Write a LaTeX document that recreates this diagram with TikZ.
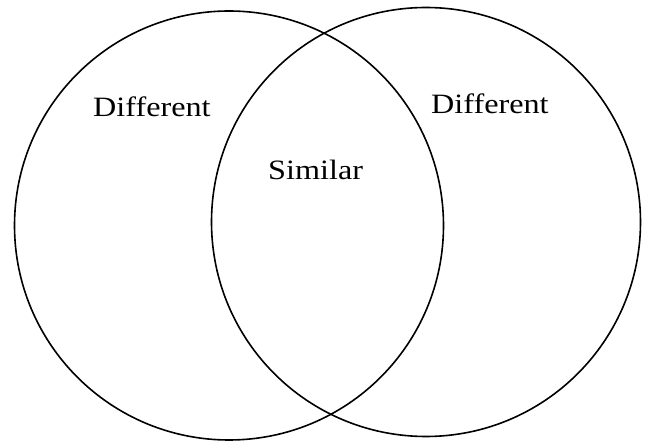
\documentclass[tikz,border=0pt]{standalone}
\usepackage{fontspec}
\setmainfont[FakeStretch=1.15]{Liberation Serif}
\usetikzlibrary{positioning}

\begin{document}
\begin{tikzpicture}[
    x=1pt, y=1pt,
    set/.style={circle, draw, line width=1.6pt, inner sep=0pt, minimum size=429pt},
    tag/.style={anchor=base west, inner sep=0pt, font=\fontsize{28}{32}\selectfont}
  ]
    \useasboundingbox (0,0) rectangle (649,442);

    % Sets
    \node[set] (setA) at (229, 216.5) {};
    \node[set] (setB) at (426, 220) {};

    % Labels
    \node[tag] (diffA) at (93, 325) {Different};
    \node[tag] (diffB) at (431, 328) {Different};
    \node[tag] (same) at (268, 262) {Similar};
  \end{tikzpicture}
\end{document}
